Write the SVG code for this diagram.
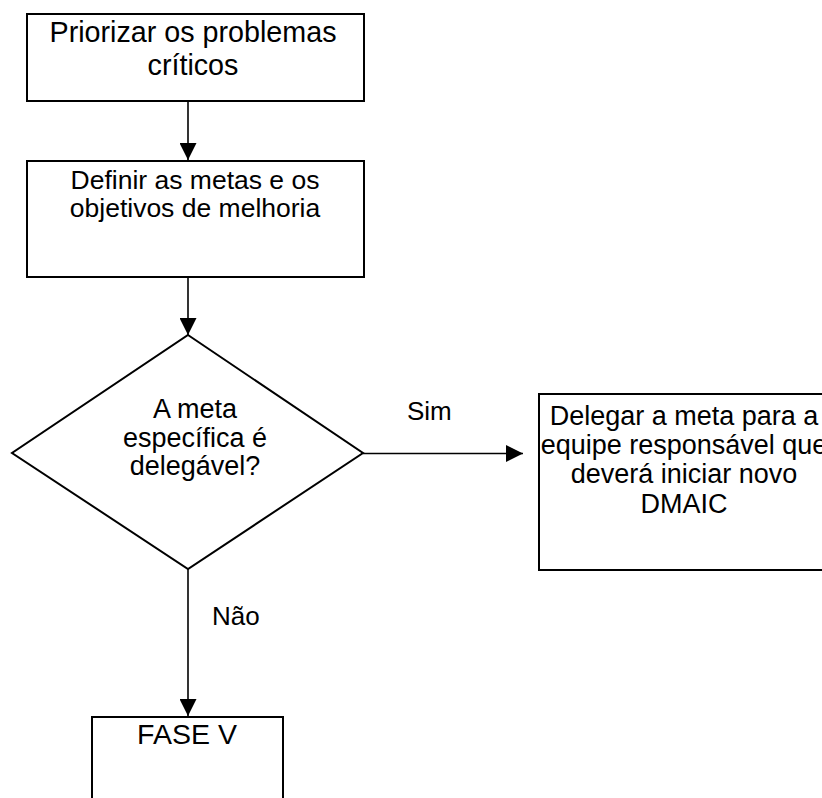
<svg xmlns="http://www.w3.org/2000/svg" width="822" height="798" viewBox="0 0 822 798">
<style>
.box{fill:#fff;stroke:#000;stroke-width:2}
.t{font-family:"Liberation Sans",Arial,sans-serif;font-size:26px;fill:#000;text-anchor:middle}
.lbl{font-family:"Liberation Sans",Arial,sans-serif;font-size:26px;fill:#000}
.c{stroke:#000;stroke-width:1.6;fill:none}
</style>
<defs>
<marker id="ah" viewBox="0 0 17 17" refX="17" refY="8.5" markerWidth="17" markerHeight="17" markerUnits="userSpaceOnUse" orient="auto">
<path d="M0,0 L17,8.5 L0,17 Z" fill="#000"/>
</marker>
</defs>
<rect width="822" height="798" fill="#fff"/>
<g id="n1">
<rect class="box" x="27" y="14" width="337" height="87"/>
<text class="t" style="font-size:28.7px" x="193" y="42">Priorizar os problemas</text>
<text class="t" style="font-size:28.7px" x="193" y="75">críticos</text>
</g>
<g id="n2">
<rect class="box" x="27" y="161" width="337" height="116"/>
<text class="t" style="font-size:26.5px" x="195" y="188.5">Definir as metas e os</text>
<text class="t" style="font-size:26.5px" x="195" y="216.5">objetivos de melhoria</text>
</g>
<g id="n3">
<polygon class="box" points="188,335 363,453 188,569 12,453"/>
<text class="t" style="font-size:27px" x="195" y="418">A meta</text>
<text class="t" style="font-size:27px" x="195" y="446.5">específica é</text>
<text class="t" style="font-size:27px" x="195" y="475">delegável?</text>
</g>
<g id="n4">
<rect class="box" x="539" y="394" width="286" height="176"/>
<text class="t" style="font-size:27px" x="684" y="425">Delegar a meta para a</text>
<text class="t" style="font-size:27px" x="684" y="454">equipe responsável que</text>
<text class="t" style="font-size:27px" x="684" y="483">deverá iniciar novo</text>
<text class="t" style="font-size:27px" x="684" y="512.5">DMAIC</text>
</g>
<g id="n5">
<rect class="box" x="92" y="717" width="191" height="100"/>
<text class="t" style="font-size:28.5px" x="187" y="744">FASE V</text>
</g>
<g id="connectors">
<line class="c" x1="188" y1="101" x2="188" y2="160" marker-end="url(#ah)"/>
<line class="c" x1="188" y1="277" x2="188" y2="335" marker-end="url(#ah)"/>
<line class="c" x1="363" y1="453.5" x2="523" y2="453.5" marker-end="url(#ah)"/>
<line class="c" x1="188" y1="569" x2="188" y2="716" marker-end="url(#ah)"/>
<text class="lbl" x="407" y="420">Sim</text>
<text class="lbl" x="212" y="625">Não</text>
</g>
</svg>
